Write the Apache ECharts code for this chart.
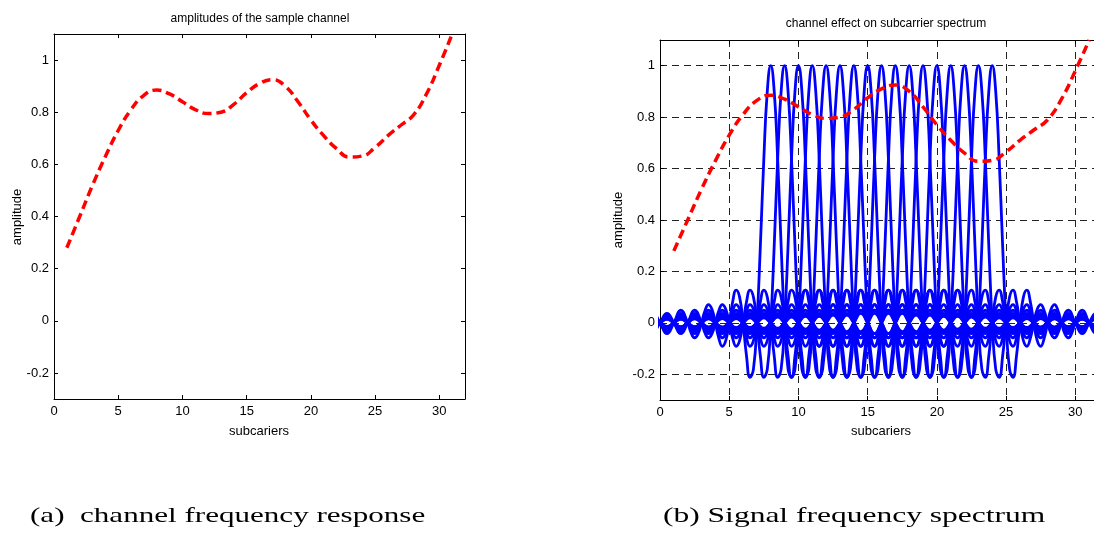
<!DOCTYPE html>
<html>
<head>
<meta charset="utf-8">
<script src="https://cdn.jsdelivr.net/npm/echarts@6/dist/echarts.min.js"></script>
<style>
html,body{margin:0;padding:0;background:#fff;}
#main{width:1094px;height:534px;}
</style>
</head>
<body>
<div id="main"></div>
<script>
// channel amplitude per subcarrier
var subcarrierIndex = [1,2,3,4,5,6,7,8,9,10,11,12,13,14,15,16,17,18,19,20,21,22,23,24,25,26,27,28,29,30,31];
var channelAmplitude = [0.28,0.40,0.52,0.63,0.73,0.81,0.865,0.885,0.87,0.84,0.81,0.795,0.80,0.83,0.875,0.91,0.925,0.90,0.84,0.77,0.71,0.66,0.628,0.632,0.665,0.71,0.75,0.79,0.87,0.98,1.10];

// centres of the 17 active subcarriers
var subcarrierCenters = [8,9,10,11,12,13,14,15,16,17,18,19,20,21,22,23,24];

// one subcarrier spectrum, offset from its centre -> amplitude (symmetric)
var pulseOffset = [0,0.25,0.5,0.75,1,1.25,1.5,1.75,2,2.25,2.5,2.75,3,3.25,3.5,3.75,4,4.25,4.5,4.75,5,5.25,5.5,5.75,6,6.5,7,7.5,8,8.5,9,9.5,10,10.5,11,11.5,12,12.5,13,13.5,14,14.5,15,15.5,16,16.5,17,17.5,18,18.5,19,19.5,20,20.5,21,21.5,22,22.5,23,23.5,24];
var pulseValue  = [1,0.90,0.637,0.30,0,-0.18,-0.212,-0.129,0,0.10,0.127,0.082,0,-0.069,-0.091,-0.06,0,0.053,0.071,0.047,0,-0.043,-0.058,-0.039,0,0.049,0,-0.042,0,0.037,0,-0.034,0,0.030,0,-0.028,0,0.025,0,-0.024,0,0.022,0,-0.021,0,0.019,0,-0.018,0,0.017,0,-0.016,0,0.016,0,-0.015,0,0.014,0,-0.014,0];

var xTicks = [0,5,10,15,20,25,30];
var yTicks = [-0.2,0,0.2,0.4,0.6,0.8,1];

var chart = echarts.init(document.getElementById('main'));

var fontSans = "'Liberation Sans', Arial, sans-serif";
var fontSerif = "'Liberation Serif', 'Times New Roman', serif";

function xAxis(grid, pos, labels, grid_lines){
  return {
    type:'value', gridIndex:grid, position:pos, min:0, max:32,
    axisLine:{show:true, onZero:false, lineStyle:{color:'#000', width:1}},
    axisTick:{show:true, inside:true, length:4, lineStyle:{color:'#000'}, customValues:xTicks},
    axisLabel:{show:labels, customValues:xTicks, color:'#000', fontSize:13, fontFamily:fontSans, margin:6},
    splitLine:{show:grid_lines, lineStyle:{color:'#222', width:1, type:[7,5]}}
  };
}
function yAxis(grid, pos, labels, grid_lines){
  return {
    type:'value', gridIndex:grid, position:pos, min:-0.3, max:1.1,
    axisLine:{show:true, onZero:false, lineStyle:{color:'#000', width:1}},
    axisTick:{show:true, inside:true, length:4, lineStyle:{color:'#000'}, customValues:yTicks},
    axisLabel:{show:labels, customValues:yTicks, color:'#000', fontSize:13, fontFamily:fontSans, margin:5},
    splitLine:{show:grid_lines, lineStyle:{color:'#222', width:1, type:[7,5]}}
  };
}

var channelData = subcarrierIndex.map(function(x, i){ return [x, channelAmplitude[i]]; });

var series = [];
series.push({
  type:'line', xAxisIndex:0, yAxisIndex:0, data:channelData, smooth:0.5, symbol:'none',
  lineStyle:{color:'#ff0000', width:3.5, type:[9,5]}
});
subcarrierCenters.forEach(function(c){
  var pts = [];
  for (var i = pulseOffset.length - 1; i > 0; i--) pts.push([c - pulseOffset[i], pulseValue[i]]);
  for (var j = 0; j < pulseOffset.length; j++) pts.push([c + pulseOffset[j], pulseValue[j]]);
  series.push({
    type:'line', xAxisIndex:2, yAxisIndex:2, data:pts, smooth:true, symbol:'none',
    lineStyle:{color:'#0000ff', width:2.8}
  });
});
series.push({
  type:'line', xAxisIndex:2, yAxisIndex:2, data:channelData, smooth:0.5, symbol:'none',
  lineStyle:{color:'#ff0000', width:3.5, type:[9,5]}
});

function label(text, x, y, size, rot){
  return {type:'text', x:x, y:y, rotation:rot || 0,
    style:{text:text, font:size + 'px ' + fontSans, fill:'#000', textAlign:'center', textVerticalAlign:'middle'}};
}

chart.setOption({
  animation:false,
  backgroundColor:'#fff',
  grid:[
    {left:54, top:34, width:411, height:365, outerBoundsMode:'none', containLabel:false},
    {left:660, top:40, width:443, height:360, outerBoundsMode:'none', containLabel:false}
  ],
  xAxis:[xAxis(0,'bottom',true,false), xAxis(0,'top',false,false), xAxis(1,'bottom',true,true), xAxis(1,'top',false,false)],
  yAxis:[yAxis(0,'left',true,false), yAxis(0,'right',false,false), yAxis(1,'left',true,true), yAxis(1,'right',false,false)],
  series:series,
  graphic:[
    label('amplitudes of the sample channel', 260, 19, 12),
    label('channel effect on subcarrier spectrum', 886, 24, 12),
    label('subcariers', 259, 431, 13),
    label('subcariers', 881, 431, 13),
    label('amplitude', 17, 217, 13, Math.PI/2),
    label('amplitude', 618, 220, 13, Math.PI/2),
    {type:'text', x:30, y:516, scaleX:1.48,
      style:{text:'(a)  channel frequency response', font:'21px ' + fontSerif, fill:'#000', textAlign:'left', textVerticalAlign:'middle'}},
    {type:'text', x:663, y:516, scaleX:1.5,
      style:{text:'(b) Signal frequency spectrum', font:'21px ' + fontSerif, fill:'#000', textAlign:'left', textVerticalAlign:'middle'}}
  ]
});
</script>
</body>
</html>
